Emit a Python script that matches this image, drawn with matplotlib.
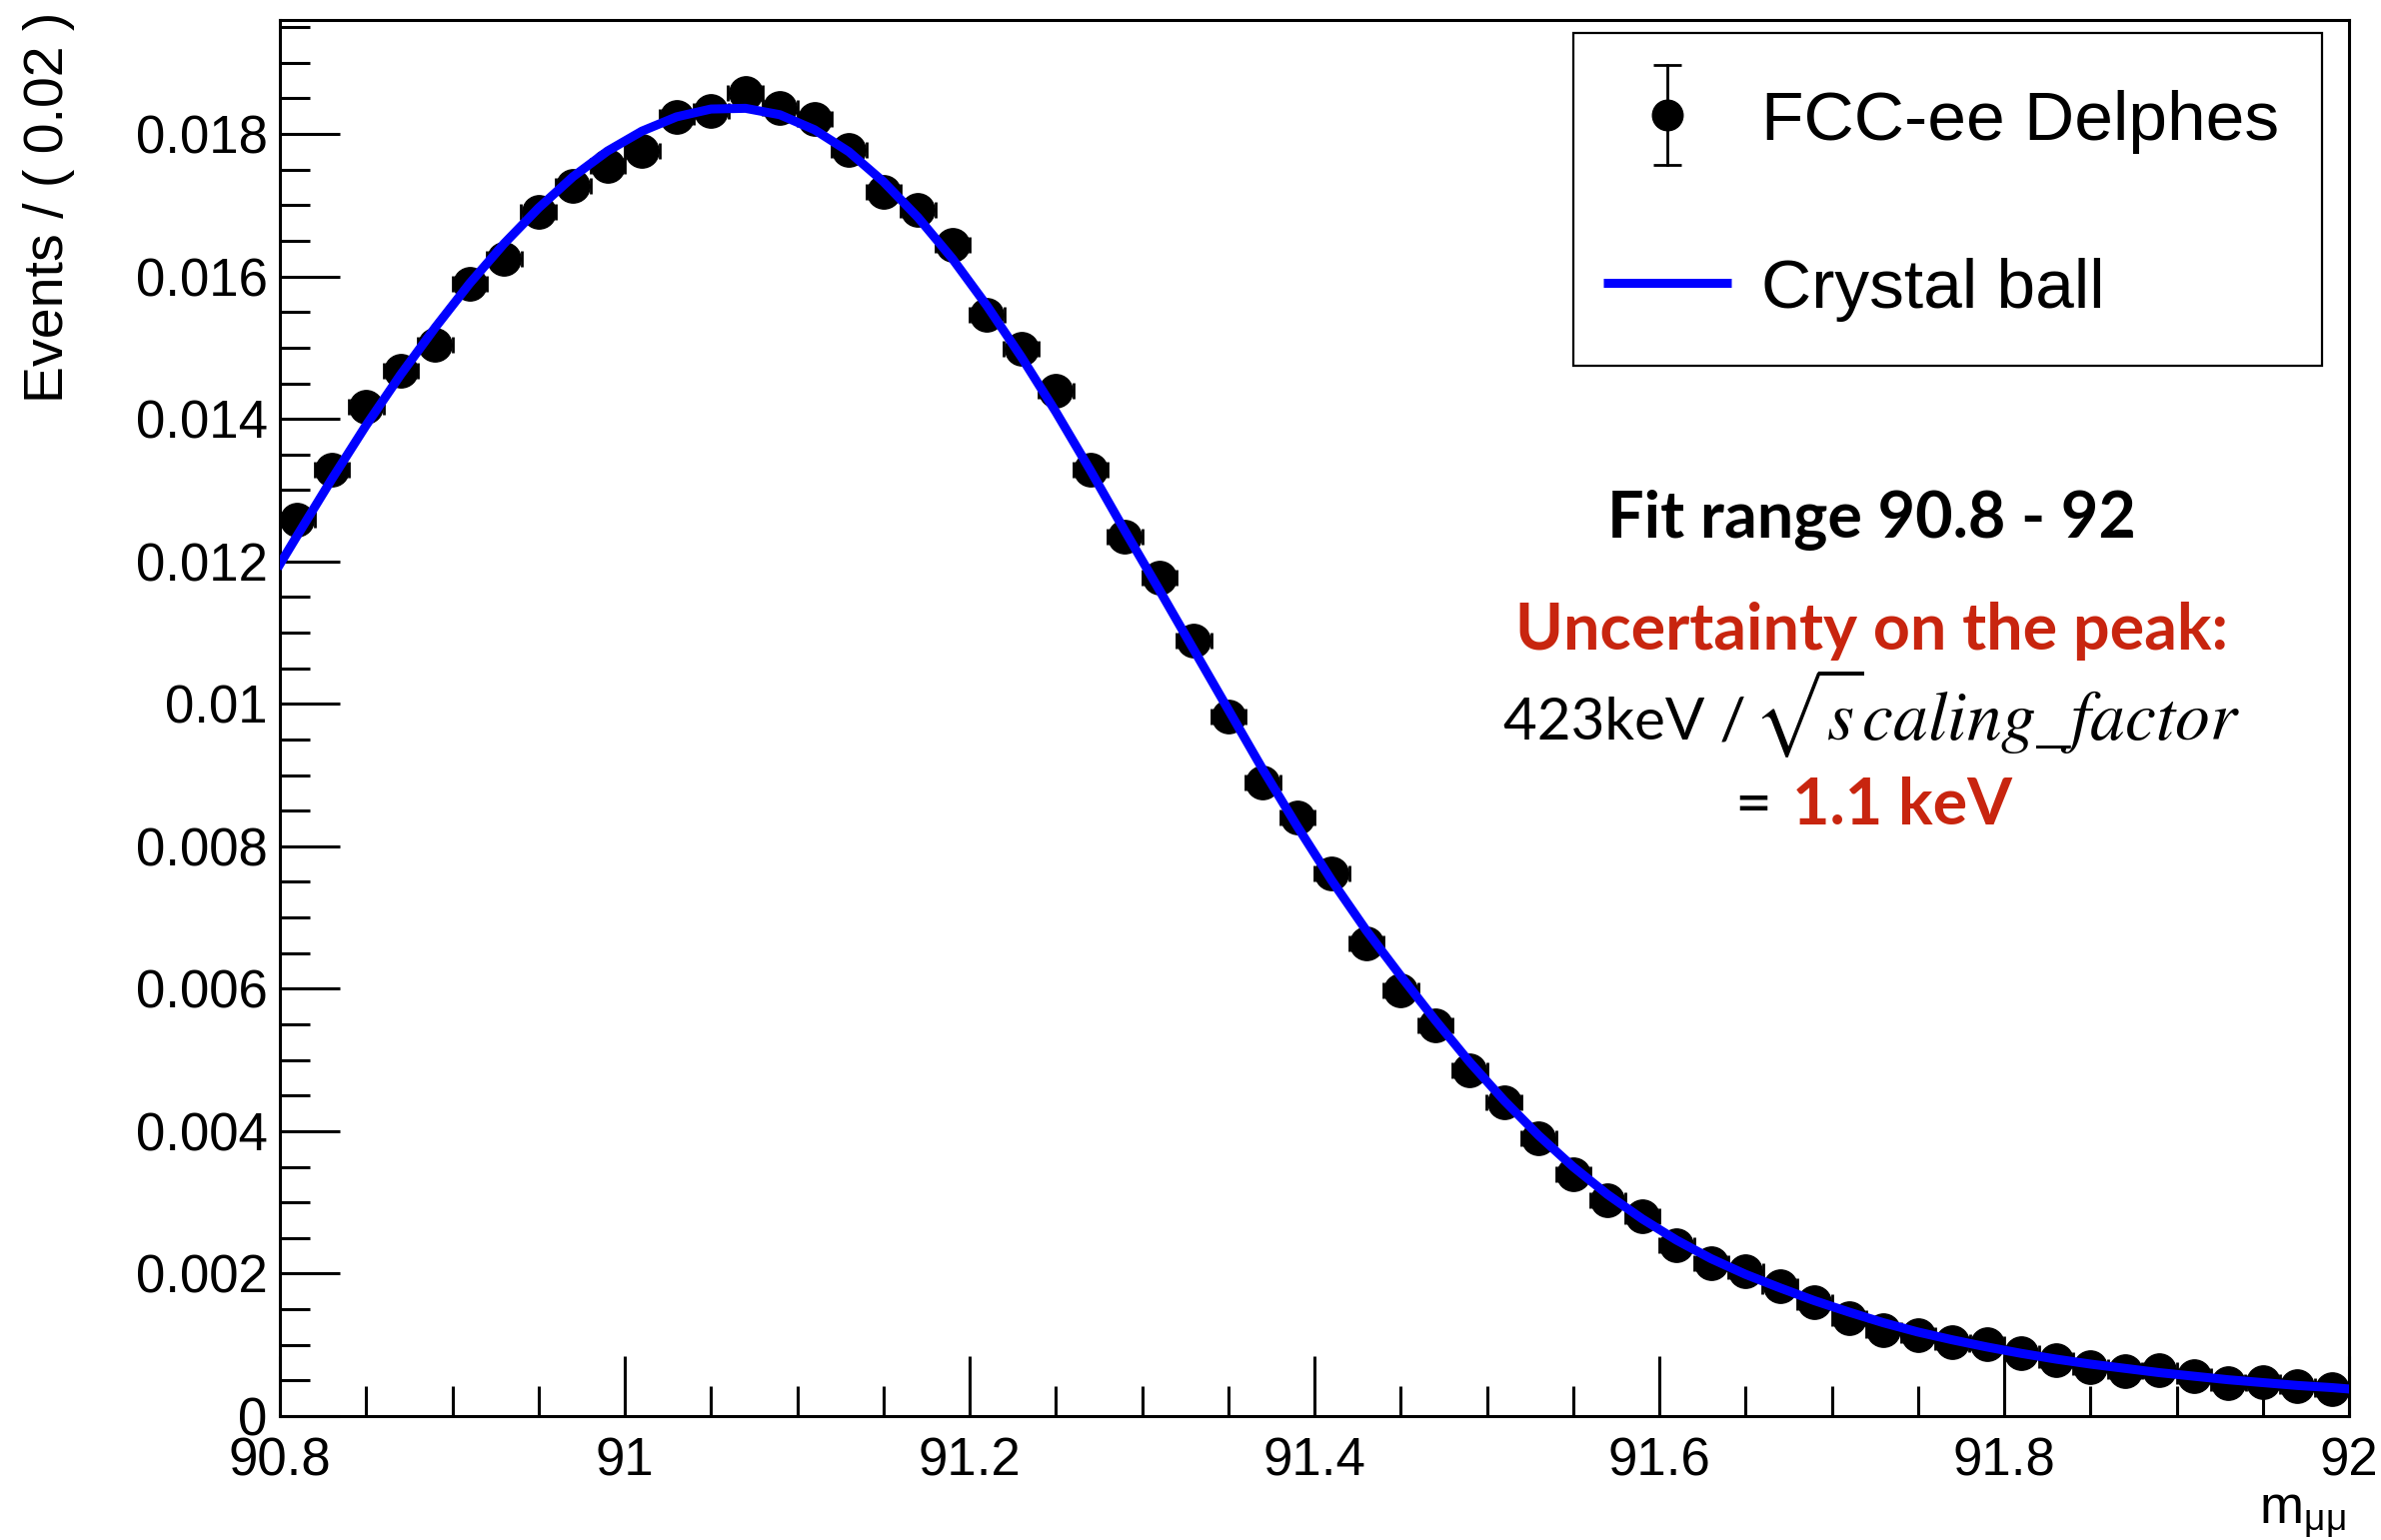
import numpy as np
import matplotlib
matplotlib.use("Agg")
import matplotlib.pyplot as plt
from matplotlib.lines import Line2D
from matplotlib.patches import Rectangle
from matplotlib.ticker import MultipleLocator, FuncFormatter

plt.rcParams["font.family"] = ["Liberation Sans", "DejaVu Sans"]
plt.rcParams["mathtext.fontset"] = "stix"

# m_mumu histogram, 60 bins of 0.02 between 90.8 and 92
bin_edges = np.linspace(90.8, 92.0, 61)
bin_centers = 0.5 * (bin_edges[:-1] + bin_edges[1:])
events = [
    0.01259, 0.01328, 0.01417, 0.01467, 0.01504, 0.01589, 0.01624, 0.01690, 0.01727, 0.01755,
    0.01776, 0.01824, 0.01833, 0.01857, 0.01837, 0.01821, 0.01777, 0.01719, 0.01693, 0.01645,
    0.01546, 0.01499, 0.01439, 0.01328, 0.01235, 0.01177, 0.01089, 0.00982, 0.00889, 0.00840,
    0.00762, 0.00663, 0.00597, 0.00549, 0.00485, 0.00441, 0.00390, 0.00340, 0.00303, 0.00281,
    0.00240, 0.00214, 0.00204, 0.00183, 0.00160, 0.00137, 0.00121, 0.00113, 0.00104, 0.00101,
    0.00089, 0.00078, 0.00069, 0.00063, 0.00065, 0.00056, 0.00046, 0.00048, 0.00042, 0.00038,
]

# crystal ball fit, sampled at the range ends and the bin centres
fit_x = np.concatenate([[90.8], bin_centers, [92.0]])
fit_y = [
    0.01196,
    0.01236, 0.01315, 0.01391, 0.01462, 0.01528, 0.01590, 0.01646, 0.01696, 0.01740, 0.01776,
    0.01804, 0.01824, 0.01835, 0.01836, 0.01827, 0.01806, 0.01775, 0.01733, 0.01683, 0.01625,
    0.01559, 0.01487, 0.01410, 0.01328, 0.01243, 0.01160, 0.01076, 0.00992, 0.00908, 0.00828,
    0.00752, 0.00682, 0.00618, 0.00556, 0.00497, 0.00443, 0.00394, 0.00350, 0.00311, 0.00277,
    0.00247, 0.00221, 0.00199, 0.00180, 0.00162, 0.00146, 0.00131, 0.00118, 0.00107, 0.00097,
    0.00088, 0.00080, 0.00073, 0.00067, 0.00061, 0.00056, 0.00051, 0.00047, 0.00043, 0.00040,
    0.00038,
]
legend_labels = ["FCC-ee Delphes", "Crystal ball"]

W, H = 2382, 1541
RED = "#c8250f"


def fx(px):
    return px / W


def fy(py):
    return 1 - py / H


fig = plt.figure(figsize=(W / 100, H / 100), dpi=100)
ax = fig.add_axes([fx(280), fy(1417), (2350 - 280) / W, (1417 - 20) / H])

ax.errorbar(bin_centers, events, xerr=0.01, fmt="o", color="black", ms=24,
            elinewidth=2, capsize=5.5, capthick=2, zorder=2)
ax.plot(fit_x, fit_y, color="blue", lw=6.5, zorder=3)

ax.set_xlim(90.8, 92.0)
ax.set_ylim(0, 0.0196)

ax.xaxis.set_major_locator(MultipleLocator(0.2))
ax.xaxis.set_minor_locator(MultipleLocator(0.05))
ax.yaxis.set_major_locator(MultipleLocator(0.002))
ax.yaxis.set_minor_locator(MultipleLocator(0.0005))
fmt = FuncFormatter(lambda v, p: f"{round(v, 6):g}")
ax.xaxis.set_major_formatter(fmt)
ax.yaxis.set_major_formatter(fmt)

ax.tick_params(which="both", direction="in", top=False, right=False, width=2.2)
ax.tick_params(which="major", length=43, labelsize=38)
ax.tick_params(which="minor", length=21.5)
ax.tick_params(axis="x", pad=15)
ax.tick_params(axis="y", pad=9)
for s in ax.spines.values():
    s.set_linewidth(2.2)

# ROOT-style legend box, laid out in figure pixels
tf = fig.transFigure
fig.add_artist(Rectangle((fx(1574), fy(366)), fx(2323) - fx(1574), fy(33) - fy(366),
                         transform=tf, facecolor="white", edgecolor="black", lw=1.6,
                         zorder=5))
# data entry: marker with vertical error bar
fig.add_artist(Line2D([fx(1668)] * 2, [fy(65), fy(165)], transform=tf, color="black",
                      lw=2, zorder=6))
fig.add_artist(Line2D([fx(1668)] * 2, [fy(65), fy(165)], transform=tf, color="black",
                      ls="none", marker="_", ms=20, mew=2, zorder=6))
fig.add_artist(Line2D([fx(1668)], [fy(115)], transform=tf, color="black", ls="none",
                      marker="o", ms=22, zorder=7))
fig.text(fx(1762), fy(140), legend_labels[0], fontsize=50, ha="left", va="baseline",
         zorder=7)
# fit entry: blue line
fig.add_artist(Line2D([fx(1604), fx(1732)], [fy(283)] * 2, transform=tf, color="blue",
                      lw=6.5, solid_capstyle="butt", zorder=6))
fig.text(fx(1762), fy(308), legend_labels[1], fontsize=50, ha="left", va="baseline",
         zorder=7)

fig.text(fx(49), fy(12), "Events / ( 0.02 )", rotation=90, ha="center", va="top",
         fontsize=40)
fig.text(fx(2347), fy(1524), r"m$_\mathregular{μμ}$", ha="right", va="baseline",
         fontsize=38)

fig.text(fx(1872), fy(538), "Fit range 90.8 - 92", family="Lato", fontweight="bold",
         fontsize=46.5, ha="center", va="baseline")
fig.text(fx(1873), fy(650), "Uncertainty on the peak:", family="Lato",
         fontweight="bold", fontsize=46.5, color=RED, ha="center", va="baseline")
fig.text(fx(1747), fy(740), "423keV /", family="Lato", fontsize=42, ha="right",
         va="baseline")
fig.text(fx(1754), fy(740), r"$\sqrt{s}caling\_factor$", fontsize=50, ha="left",
         va="baseline")
fig.text(fx(1772), fy(825), "=", family="Lato", fontsize=46, ha="right",
         va="baseline")
fig.text(fx(1793), fy(825), "1.1 keV", family="Lato", fontweight="bold",
         fontsize=46.5, color=RED, ha="left", va="baseline")

fig.savefig("out.png", dpi=100)
